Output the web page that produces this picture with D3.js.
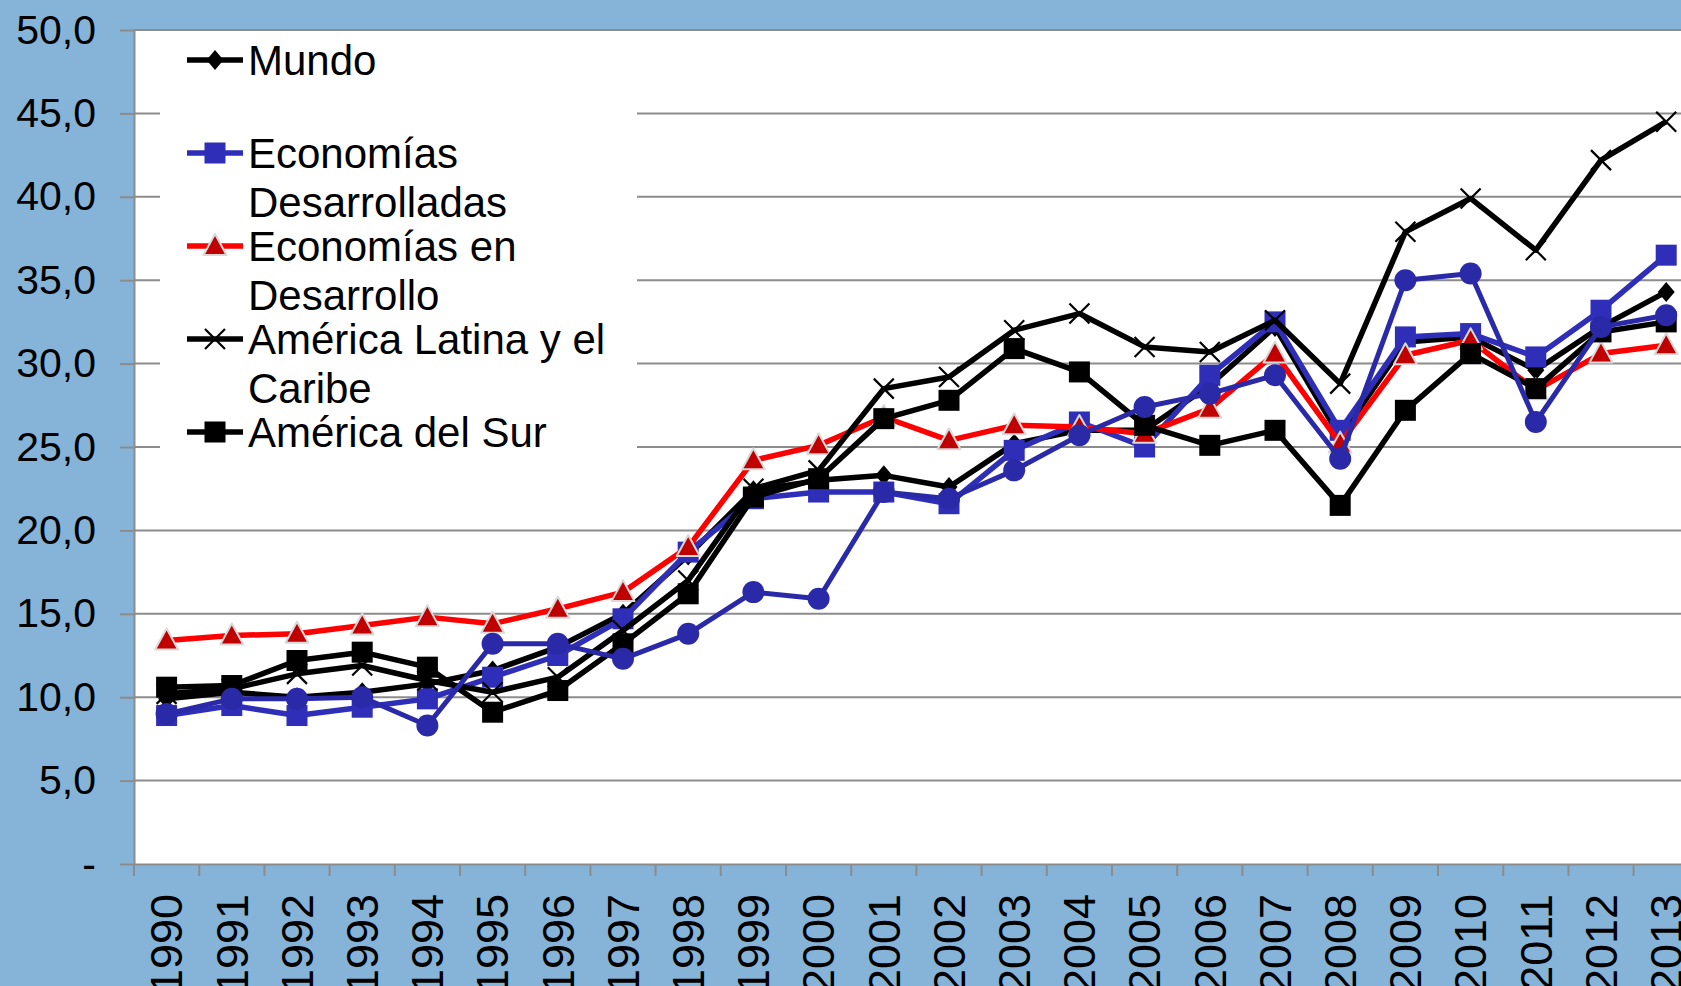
<!DOCTYPE html>
<html>
<head>
<meta charset="utf-8">
<title>Apertura comercial 1990-2013</title>
<script src="https://cdn.jsdelivr.net/npm/d3@7"></script>
<style>
  body { margin: 0; background: #86b4d9; }
  svg { display: block; }
</style>
</head>
<body>
<svg width="1681" height="986"></svg>
<script>
// categories
const years = ["1990","1991","1992","1993","1994","1995","1996","1997","1998","1999","2000","2001",
               "2002","2003","2004","2005","2006","2007","2008","2009","2010","2011","2012","2013"];

// series values
const mundo        = [9.9, 10.3, 10.0, 10.3, 10.8, 11.6, 13.0, 15.0, 18.5, 22.4, 23.0, 23.3, 22.6, 25.2, 26.0, 26.0, 28.7, 32.2, 25.6, 31.3, 31.6, 29.6, 32.2, 34.3];
const desarrolladas = [8.9, 9.5, 8.9, 9.4, 9.9, 11.2, 12.5, 14.7, 18.7, 21.9, 22.3, 22.3, 21.6, 24.8, 26.5, 25.0, 29.3, 32.5, 26.0, 31.6, 31.8, 30.4, 33.2, 36.5];
const enDesarrollo = [13.4, 13.7, 13.8, 14.3, 14.8, 14.4, 15.3, 16.3, 19.0, 24.2, 25.1, 26.8, 25.4, 26.3, 26.2, 25.8, 27.3, 30.6, 25.2, 30.5, 31.4, 28.4, 30.6, 31.1];
const latinaCaribe = [10.2, 10.5, 11.4, 11.9, 11.0, 10.3, 11.2, 14.0, 17.0, 22.5, 23.6, 28.5, 29.2, 32.0, 33.0, 31.0, 30.7, 32.6, 28.8, 37.9, 39.9, 36.8, 42.2, 44.5];
const delSur       = [10.6, 10.7, 12.2, 12.7, 11.8, 9.1, 10.4, 13.2, 16.2, 22.0, 23.1, 26.7, 27.8, 30.9, 29.5, 26.3, 25.1, 26.0, 21.5, 27.2, 30.6, 28.5, 31.9, 32.5];
// sixth series, no legend entry visible
const sextaSerie   = [9.0, 9.9, 9.9, 10.0, 8.3, 13.2, 13.2, 12.3, 13.8, 16.3, 15.9, 22.3, 21.9, 23.6, 25.7, 27.4, 28.2, 29.3, 24.3, 35.0, 35.4, 26.5, 32.2, 32.9];

// tick labels
const yTicks = [0, 5, 10, 15, 20, 25, 30, 35, 40, 45, 50];
const yTickLabels = ["-", "5,0", "10,0", "15,0", "20,0", "25,0", "30,0", "35,0", "40,0", "45,0", "50,0"];

const series = [
  {name: "Mundo", label: ["Mundo"], values: mundo, color: "#000", marker: "diamond"},
  {name: "Economías Desarrolladas", label: ["Economías", "Desarrolladas"], values: desarrolladas, color: "#2e2eb8", marker: "square"},
  {name: "Economías en Desarrollo", label: ["Economías en", "Desarrollo"], values: enDesarrollo, color: "#ff0000", marker: "triangle"},
  {name: "América Latina y el Caribe", label: ["América Latina y el", "Caribe"], values: latinaCaribe, color: "#000", marker: "x"},
  {name: "América del Sur", label: ["América del Sur"], values: delSur, color: "#000", marker: "square"},
  {name: "", label: null, values: sextaSerie, color: "#2a2aa8", marker: "circle"}
];

const font = '"Liberation Sans", Arial, sans-serif';
const svg = d3.select("svg");
const width = +svg.attr("width");
const height = +svg.attr("height");
const plotLeft = 134, plotTop = 30, plotBottom = 864;
const step = 65.2;

const x = d3.scaleBand().domain(years).range([plotLeft, plotLeft + step * years.length]);
const y = d3.scaleLinear().domain([0, 50]).range([plotBottom, plotTop]);
const cx = d => x(d) + x.bandwidth() / 2;

svg.append("rect").attr("width", width).attr("height", height).attr("fill", "#86b4d9");
svg.append("rect").attr("x", plotLeft).attr("y", plotTop)
  .attr("width", width - plotLeft).attr("height", plotBottom - plotTop).attr("fill", "#fff");

// gridlines
svg.append("g").selectAll("line").data(yTicks.filter(v => v > 0)).join("line")
  .attr("x1", plotLeft).attr("x2", width)
  .attr("y1", d => y(d)).attr("y2", d => y(d))
  .attr("stroke", "#8c8c8c").attr("stroke-width", 2);

// y axis
const yAxis = svg.append("g").attr("transform", `translate(${plotLeft},0)`)
  .call(d3.axisLeft(y).tickValues(yTicks).tickSize(14).tickSizeOuter(0).tickPadding(24)
    .tickFormat((d, i) => yTickLabels[i]));
yAxis.attr("font-family", font).attr("font-size", 41);
yAxis.select(".domain").attr("stroke", "#8c8c8c").attr("stroke-width", 2);
yAxis.selectAll(".tick line").attr("stroke", "#8c8c8c").attr("stroke-width", 2);
yAxis.selectAll("text").attr("fill", "#000");

// x axis
const xAxis = svg.append("g").attr("transform", `translate(0,${plotBottom})`)
  .call(d3.axisBottom(x).tickSize(0).tickSizeOuter(0));
xAxis.attr("font-family", font).attr("font-size", 45);
xAxis.select(".domain").attr("stroke", "#8c8c8c").attr("stroke-width", 2);
xAxis.selectAll(".tick text")
  .attr("x", 0).attr("y", 0).attr("dy", "0.35em")
  .attr("text-anchor", "end").attr("fill", "#000")
  .attr("transform", "translate(0,30) rotate(-90)");
xAxis.append("g").selectAll("line")
  .data(years.map(d => x(d)).concat([x.range()[1]])).join("line")
  .attr("x1", d => d).attr("x2", d => d).attr("y1", 0).attr("y2", 12)
  .attr("stroke", "#8c8c8c").attr("stroke-width", 2);

// markers
function drawMarker(g, type, color) {
  if (type === "diamond") {
    g.append("path").attr("d", "M0,-10L8.5,0L0,10L-8.5,0Z").attr("fill", color);
  } else if (type === "square") {
    g.append("rect").attr("x", -10.5).attr("y", -10.5).attr("width", 21).attr("height", 21)
      .attr("fill", color);
  } else if (type === "triangle") {
    g.append("path").attr("d", "M0,-12L11.5,9L-11.5,9Z")
      .attr("fill", "#c00000").attr("stroke", "#d9d9d9").attr("stroke-width", 2)
      .attr("stroke-linejoin", "round");
  } else if (type === "circle") {
    g.append("circle").attr("r", 11).attr("fill", color);
  } else if (type === "x") {
    g.append("path").attr("d", "M-10,-10L10,10M-10,10L10,-10")
      .attr("stroke", color).attr("stroke-width", 2.2).attr("fill", "none");
  }
}

const line = d3.line().x((d, i) => cx(years[i])).y(d => y(d));

series.forEach(s => {
  const g = svg.append("g");
  g.append("path").datum(s.values).attr("d", line)
    .attr("fill", "none").attr("stroke", s.color)
    .attr("stroke-width", s.marker === "circle" ? 5 : 5.5)
    .attr("stroke-linejoin", "round");
  g.selectAll("g").data(s.values).join("g")
    .attr("transform", (d, i) => `translate(${cx(years[i])},${y(d)})`)
    .each(function() { drawMarker(d3.select(this), s.marker, s.color); });
});

// legend
const legend = svg.append("g");
legend.append("rect").attr("x", 160).attr("y", 36).attr("width", 477).attr("height", 426).attr("fill", "#fff");
series.filter(s => s.label).forEach((s, i) => {
  const ly = 60 + 93 * i;
  const g = legend.append("g").attr("transform", `translate(0,${ly})`);
  g.append("line").attr("x1", 187).attr("x2", 243).attr("y1", 0).attr("y2", 0)
    .attr("stroke", s.color).attr("stroke-width", 5.5);
  drawMarker(g.append("g").attr("transform", "translate(215,0)"), s.marker, s.color);
  const t = g.append("text").attr("x", 248).attr("y", 0)
    .attr("font-family", font).attr("font-size", 42).attr("fill", "#000");
  s.label.forEach((l, j) => {
    t.append("tspan").attr("x", 248).attr("dy", j === 0 ? "0.35em" : 49).text(l);
  });
});
</script>
</body>
</html>
